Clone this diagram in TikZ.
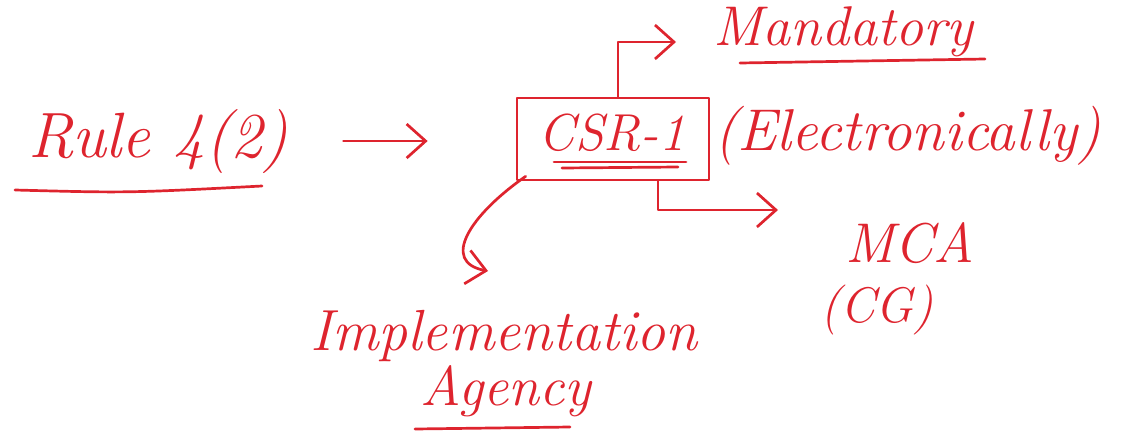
\documentclass[tikz,border=0pt]{standalone}
\usetikzlibrary{arrows.meta}
\definecolor{ink}{RGB}{222,36,46}
\tikzset{
  x=1pt, y=-1pt,
  pen/.style={draw=ink, line width=2.7pt, line cap=round, line join=round},
  hand/.style={text=ink, inner sep=0pt, font=\fontsize{#1}{#1}\selectfont\itshape},
  hand/.default=56,
  arr/.style={pen, -{Straight Barb[length=19pt, width=34pt, line width=2.7pt]}},
  frame/.style={pen, minimum width=192pt, minimum height=82pt, inner sep=0pt}
}
\begin{document}
\begin{tikzpicture}
\useasboundingbox (0,0) rectangle (1122,434);

% source rule
\node[hand=64, anchor=base west] (rule) at (28,157) {Rule 4(2)};
\draw[pen] ([shift={(-13,33)}]rule.base west) .. controls ([shift={(100,36)}]rule.base west) .. ([shift={(234,29)}]rule.base west);

% central form
\node[frame] (box) at (613,139) {};
\node[hand=52, anchor=base] (csr) at (612,150) {CSR-1};
\draw[pen] ([shift={(-58,12)}]csr.base) -- ([shift={(74,12)}]csr.base);
\draw[pen] ([shift={(-50,18)}]csr.base) -- ([shift={(66,17)}]csr.base);

% targets
\node[hand, anchor=base west] (mand) at (713,45) {Mandatory};
\draw[pen] ([shift={(27,18)}]mand.base west) -- ([shift={(272,14)}]mand.base west);
\node[hand=59, anchor=base west] (elec) at (714,150) {(Electronically)};
\node[hand=56, anchor=base west] (mca) at (845,262) {MCA};
\node[hand=50, anchor=base west] (cg) at (820,322) {(CG)};
\node[hand=58, anchor=base west] (impl) at (310,350) {Implementation};
\node[hand, anchor=base west] (agen) at (420,405) {Agency};
\draw[pen] ([shift={(-5,24)}]agen.base west) -- ([shift={(150,22)}]agen.base west);

% arrow ends
\coordinate (mandIn) at (676,42);
\coordinate (mcaIn) at (778,210);
\coordinate (implIn) at (488,271);

% connectors
\draw[arr, shorten <=55pt, shorten >=88pt] (rule.east) -- (rule.east -| box.west);
\draw[arr] ([xshift=5]box.north) |- (mandIn);
\draw[arr] ([xshift=45]box.south) |- (mcaIn);
\draw[arr] ([shift={(10,-5)}]box.south west) .. controls (470,215) and (440,262) .. (implIn);
\end{tikzpicture}
\end{document}
